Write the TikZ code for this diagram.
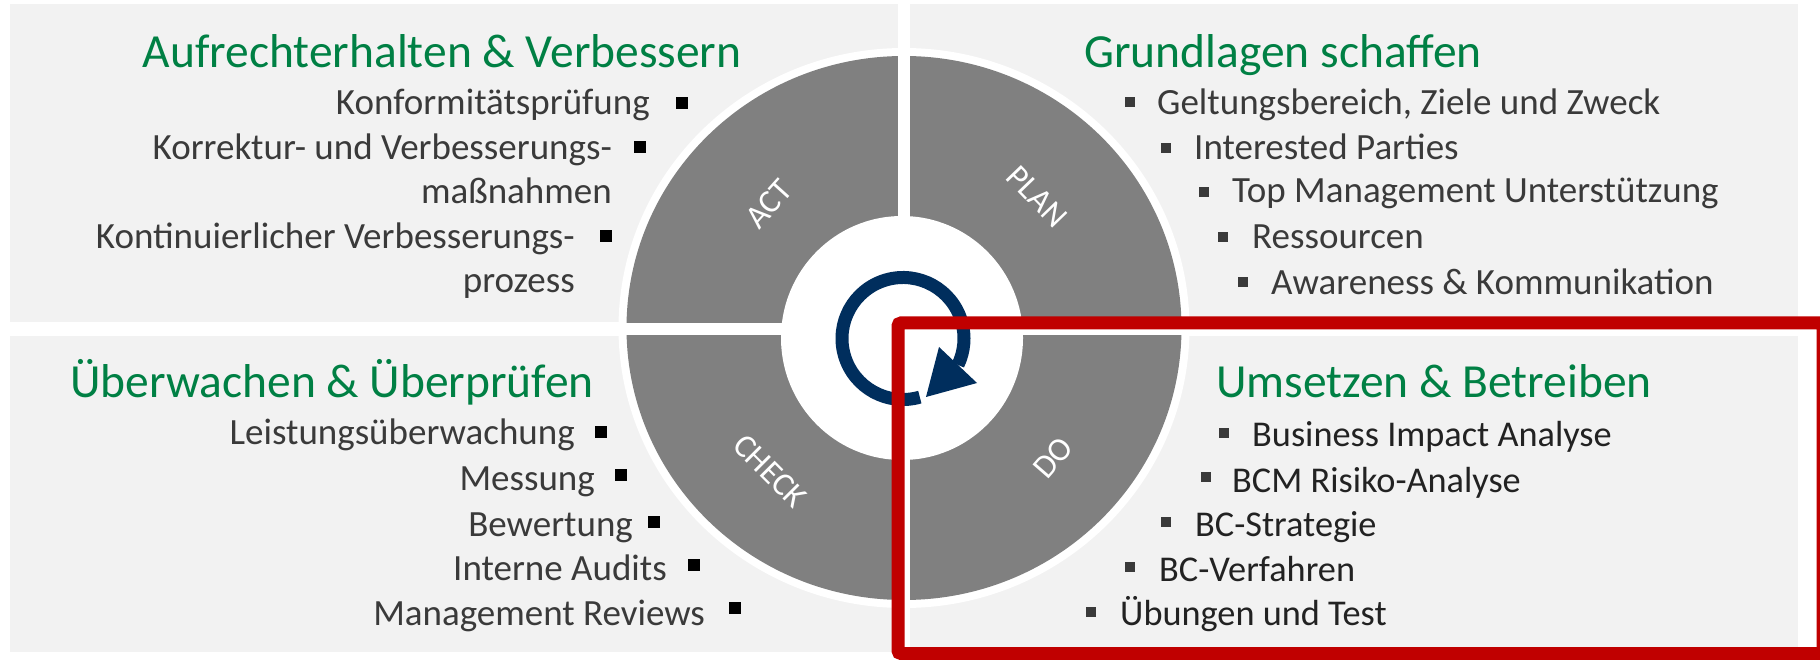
\documentclass[tikz,border=0pt]{standalone}
\usepackage{fontspec}
\setmainfont{Carlito}

\definecolor{panelGray}{HTML}{F2F2F2}
\definecolor{ringGray}{HTML}{808080}
\definecolor{titleGreen}{RGB}{0,128,68}
\definecolor{itemGray}{HTML}{3A3A3A}
\definecolor{doGray}{HTML}{222222}
\definecolor{bulletGray}{HTML}{3A3A3A}
\definecolor{cycleNavy}{RGB}{0,46,93}
\definecolor{frameRed}{HTML}{C00000}

\newcommand\headFont{\fontsize{47.5}{50}\selectfont}
\newcommand\itemFont{\fontsize{37}{40}\selectfont}
\newcommand\doFont{\fontsize{36.3}{40}\selectfont}
\newcommand\phaseFont{\fontsize{33}{36}\selectfont}

\tikzset{
  panel/.style={fill=panelGray},
  headText/.style={anchor=base, inner sep=0pt, text=titleGreen, font=\headFont},
  leftItem/.style={anchor=base east, inner sep=0pt, text=itemGray, font=\itemFont},
  rightItem/.style={anchor=base west, inner sep=0pt, text=itemGray, font=\itemFont},
  doItem/.style={rightItem, text=doGray, font=\doFont},
  bigBullet/.style={fill=black, minimum size=12pt, inner sep=0pt},
  smallBullet/.style={fill=bulletGray, minimum size=10pt, inner sep=0pt},
  phaseLabel/.style={text=white, font=\phaseFont, inner sep=0pt},
  redFrame/.style={draw=frameRed, line width=13pt, rounded corners=3pt}
}

\begin{document}
\begin{tikzpicture}[x=1pt,y=1pt]
  \useasboundingbox (0,0) rectangle (1820,659);
  \fill[white] (0,0) rectangle (1820,659);
  \clip (0,0) rectangle (1820,659);

  % four panels
  \fill[panel] (10,337) rectangle (898,655);
  \fill[panel] (910,337) rectangle (1798,655);
  \fill[panel] (10,7) rectangle (898,323);
  \fill[panel] (910,7) rectangle (1798,323);

  % ring
  \fill[white] (904,331) ellipse [x radius=285.5, y radius=280];
  \fill[ringGray] (904,331) ellipse [x radius=277.5, y radius=272];
  \fill[white] (898,40) rectangle (910,620);
  \fill[white] (610,324) rectangle (1200,336);
  \fill[white] (902,321) ellipse [x radius=121, y radius=122];

  \node (actLabel) [phaseLabel, rotate=48] at (769,455) {ACT};
  \node (planLabel) [phaseLabel, rotate=-46] at (1037,462) {PLAN};
  \node (checkLabel) [phaseLabel, rotate=-45] at (770,188) {CHECK};
  \node (doLabel) [phaseLabel, rotate=49] at (1053,201) {DO};

  % cycle arrow
  \draw[cycleNavy, line width=13pt] (903,320.5) ++(-74:61)
    arc [start angle=-74, end angle=-385.7, radius=61];
  \fill[cycleNavy] (939,312) -- (977,276) -- (926,262) -- cycle;

  % ACT panel
  \node (actTitle) [headText] at (442,591) {Aufrechterhalten \& Verbessern};
  \node (actItemA) [leftItem] at (650,544) {Konformitätsprüfung};
  \node (actBulletA) [bigBullet] at (682,556) {};
  \node (actItemB) [leftItem] at (612,499) {Korrektur- und Verbesserungs-};
  \node (actBulletB) [bigBullet] at (640,512) {};
  \node (actItemBb) [leftItem] at (612,455) {maßnahmen};
  \node (actItemC) [leftItem] at (575,410) {Kontinuierlicher Verbesserungs-};
  \node (actBulletC) [bigBullet] at (606,423) {};
  \node (actItemCb) [leftItem] at (575,366) {prozess};

  % PLAN panel
  \node (planTitle) [headText] at (1283,591) {Grundlagen schaffen};
  \node (planBulletA) [smallBullet] at (1130,557) {};
  \node (planItemA) [rightItem] at (1157,544) {Geltungsbereich, Ziele und Zweck};
  \node (planBulletB) [smallBullet] at (1166,511) {};
  \node (planItemB) [rightItem] at (1194,499) {Interested Parties};
  \node (planBulletC) [smallBullet] at (1204,467) {};
  \node (planItemC) [rightItem] at (1232,456) {Top Management Unterstützung};
  \node (planBulletD) [smallBullet] at (1223,422) {};
  \node (planItemD) [rightItem] at (1252,410) {Ressourcen};
  \node (planBulletE) [smallBullet] at (1243,377) {};
  \node (planItemE) [rightItem] at (1271,364) {Awareness \& Kommunikation};

  % CHECK panel
  \node (checkTitle) [headText] at (332,261) {Überwachen \& Überprüfen};
  \node (checkItemA) [leftItem] at (575,214) {Leistungsüberwachung};
  \node (checkBulletA) [bigBullet] at (601,227) {};
  \node (checkItemB) [leftItem] at (595,168) {Messung};
  \node (checkBulletB) [bigBullet] at (621,184) {};
  \node (checkItemC) [leftItem] at (633,123) {Bewertung};
  \node (checkBulletC) [bigBullet] at (654,137) {};
  \node (checkItemD) [leftItem] at (667,79) {Interne Audits};
  \node (checkBulletD) [bigBullet] at (694,94) {};
  \node (checkItemE) [leftItem] at (705,34) {Management Reviews};
  \node (checkBulletE) [bigBullet] at (735,51) {};

  % DO panel
  \node (doTitle) [headText] at (1434,261) {Umsetzen \& Betreiben};
  \node (doBulletA) [smallBullet] at (1224,226) {};
  \node (doItemA) [doItem] at (1252,212) {Business Impact Analyse};
  \node (doBulletB) [smallBullet] at (1206,182) {};
  \node (doItemB) [doItem] at (1232,167) {BCM Risiko-Analyse};
  \node (doBulletC) [smallBullet] at (1166,137) {};
  \node (doItemC) [doItem] at (1195,123) {BC-Strategie};
  \node (doBulletD) [smallBullet] at (1130,92) {};
  \node (doItemD) [doItem] at (1159,78) {BC-Verfahren};
  \node (doBulletE) [smallBullet] at (1091,47) {};
  \node (doItemE) [doItem] at (1120,34) {Übungen und Test};

  % highlight frame
  \draw[redFrame] (898,336) rectangle (1823,5.5);
\end{tikzpicture}
\end{document}
